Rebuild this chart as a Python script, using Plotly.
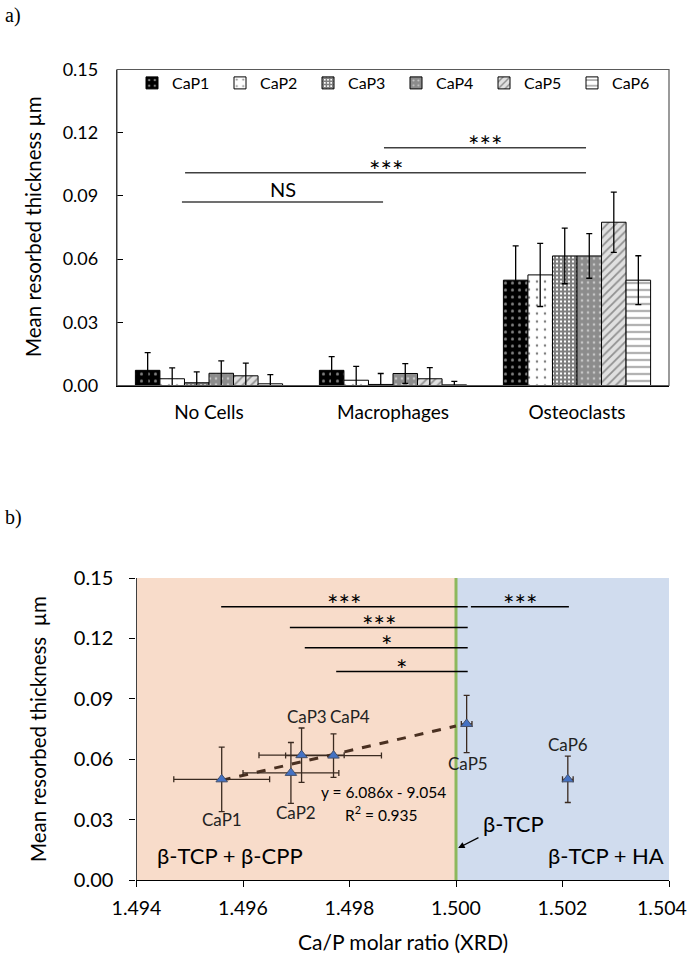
import plotly.graph_objects as go

# ---------------- data: panel a ----------------
categories = ["No Cells", "Macrophages", "Osteoclasts"]
series_names = ["CaP1", "CaP2", "CaP3", "CaP4", "CaP5", "CaP6"]
cap1_mean = [0.0072, 0.0072, 0.0500]
cap1_err = [0.0084, 0.0065, 0.0163]
cap2_mean = [0.0032, 0.0025, 0.0525]
cap2_err = [0.0052, 0.0066, 0.0150]
cap3_mean = [0.0013, 0.0005, 0.0615]
cap3_err = [0.0052, 0.0052, 0.0132]
cap4_mean = [0.0058, 0.0057, 0.0615]
cap4_err = [0.0059, 0.0047, 0.0106]
cap5_mean = [0.0046, 0.0032, 0.0775]
cap5_err = [0.0060, 0.0053, 0.0143]
cap6_mean = [0.0008, 0.0003, 0.0500]
cap6_err = [0.0044, 0.0017, 0.0116]
y_ticks_a = [0.00, 0.03, 0.06, 0.09, 0.12, 0.15]

# ---------------- data: panel b ----------------
cap_labels = ["CaP1", "CaP2", "CaP3", "CaP4", "CaP5", "CaP6"]
cap_x = [1.4956, 1.4969, 1.4971, 1.4977, 1.5002, 1.5021]
cap_x_err = [0.0009, 0.0009, 0.0008, 0.0009, 0.0001, 0.0001]
cap_y = [0.0500, 0.0532, 0.0620, 0.0618, 0.0775, 0.0500]
cap_y_err = [0.0160, 0.0151, 0.0135, 0.0108, 0.0142, 0.0115]
trend_x = [1.4956, 1.5000]
trend_y = [0.0495, 0.0765]
x_ticks_b = [1.494, 1.496, 1.498, 1.500, 1.502, 1.504]

FONT = "Lato"
means = [cap1_mean, cap2_mean, cap3_mean, cap4_mean, cap5_mean, cap6_mean]
errs = [cap1_err, cap2_err, cap3_err, cap4_err, cap5_err, cap6_err]
patterns = [
    dict(shape=".", fgcolor="white", bgcolor="black", size=7, solidity=0.15),
    dict(shape=".", fgcolor="black", bgcolor="white", size=8, solidity=0.08),
    dict(shape="+", fgcolor="black", bgcolor="white", size=4, solidity=0.75),
    dict(shape=".", fgcolor="white", bgcolor="#8c8c8c", size=6, solidity=0.15),
    dict(shape="/", fgcolor="#404040", bgcolor="#e0e0e0", size=6, solidity=0.3),
    dict(shape="-", fgcolor="black", bgcolor="white", size=7, solidity=0.2),
]

fig = go.Figure()
for name, m, e, p in zip(series_names, means, errs, patterns):
    fig.add_trace(go.Bar(
        x=categories, y=m, name=name, xaxis="x", yaxis="y",
        marker=dict(color=p["bgcolor"], line=dict(color="black", width=1), pattern=p),
        error_y=dict(type="data", array=e, color="black", thickness=1.3, width=3),
    ))

# panel b traces
fig.add_trace(go.Scatter(
    x=trend_x, y=trend_y, mode="lines", xaxis="x2", yaxis="y2", showlegend=False,
    line=dict(color="#4a3021", width=3, dash="dash"), hoverinfo="skip",
))
fig.add_trace(go.Scatter(
    x=cap_x, y=cap_y, mode="markers", xaxis="x2", yaxis="y2", showlegend=False,
    marker=dict(symbol="triangle-up", size=10, color="#4472c4", line=dict(color="#44506a", width=1)),
    error_x=dict(type="data", array=cap_x_err, color="#3a2a20", thickness=1.3, width=3),
    error_y=dict(type="data", array=cap_y_err, color="#3a2a20", thickness=1.3, width=3),
))

W, H = 689, 956
def px_x(p):
    return p / W
def px_y(p):
    return 1 - p / H

shapes = []
annotations = []

# panel a frame
shapes.append(dict(type="rect", xref="x domain", yref="y domain", x0=0, x1=1, y0=0, y1=1,
                   line=dict(color="#595959", width=1.2), layer="above"))

# panel a significance brackets (x in category index units)
brackets_a = [(0.951, 2.049, 0.1129, "***"), (-0.130, 2.049, 0.1010, "***"), (-0.147, 0.946, 0.0871, "NS")]
for x0, x1, yv, t in brackets_a:
    shapes.append(dict(type="line", xref="x", yref="y", x0=x0, x1=x1, y0=yv, y1=yv,
                       line=dict(color="#404040", width=1.5)))
    annotations.append(dict(x=(x0 + x1) / 2, y=yv, xref="x", yref="y", text=t, showarrow=False,
                            xanchor="center", yanchor="middle", yshift=13 if t == "NS" else 2,
                            font=dict(family=FONT, size=20 if t == "NS" else 27, color="black")))

# panel b background regions
shapes.append(dict(type="rect", xref="x2", yref="y2", x0=1.494, x1=1.500, y0=0, y1=0.15,
                   fillcolor="#f8dcca", line=dict(width=0), layer="below"))
shapes.append(dict(type="rect", xref="x2", yref="y2", x0=1.500, x1=1.504, y0=0, y1=0.15,
                   fillcolor="#d0dcee", line=dict(width=0), layer="below"))
shapes.append(dict(type="line", xref="x2", yref="y2", x0=1.500, x1=1.500, y0=0, y1=0.15,
                   line=dict(color="#8db85c", width=3), layer="below"))

brackets_b = [(1.49559, 1.50022, 0.1357, "***"), (1.50028, 1.50212, 0.1357, "***"),
              (1.49688, 1.50022, 0.1254, "***"), (1.49716, 1.50022, 0.1153, "*"),
              (1.49775, 1.50022, 0.1035, "*")]
for x0, x1, yv, t in brackets_b:
    shapes.append(dict(type="line", xref="x2", yref="y2", x0=x0, x1=x1, y0=yv, y1=yv,
                       line=dict(color="black", width=1.5)))
    annotations.append(dict(x=(x0 + x1) / 2, y=yv, xref="x2", yref="y2", text=t, showarrow=False,
                            xanchor="center", yanchor="middle", yshift=2,
                            font=dict(family=FONT, size=27, color="black")))

# point labels
label_pos = [(1.4956, 0.0299), (1.4970, 0.0335), (1.4972, 0.0813), (1.4980, 0.0813), (1.50023, 0.058), (1.5021, 0.0672)]
for lab, (lx, ly) in zip(cap_labels, label_pos):
    annotations.append(dict(x=lx, y=ly, xref="x2", yref="y2", text=lab, showarrow=False,
                            xanchor="center", yanchor="middle",
                            font=dict(family=FONT, size=17, color="#222")))

def ann(x, y, text, size, xref="x2", yref="y2", **kw):
    d = dict(x=x, y=y, xref=xref, yref=yref, text=text, showarrow=False,
             xanchor="center", yanchor="middle", font=dict(family=FONT, size=size, color="black"))
    d.update(kw)
    return d

# x tick labels of panel b: the last one sits at the page edge, so it is drawn right-aligned
x_ticktext_b = [f"{v:.3f}" for v in x_ticks_b[:-1]] + [""]

annotations += [
    ann(1.49864, 0.0439, "y = 6.086x - 9.054", 15.5),
    ann(1.4986, 0.0332, "R<sup>2</sup> = 0.935", 15.5),
    ann(1.49575, 0.0124, "β-TCP + β-CPP", 22),
    ann(1.50281, 0.0124, "β-TCP + HA", 22),
    ann(1.50108, 0.0282, "β-TCP", 22),
    dict(x=1.50004, y=0.0159, xref="x2", yref="y2", ax=1.50045, ay=0.0214, axref="x2", ayref="y2",
         text="", showarrow=True, arrowhead=2, arrowsize=1, arrowwidth=1.3, arrowcolor="black"),
    ann(1.0, px_y(907), f"{x_ticks_b[-1]:.3f}", 19.5, xref="paper", yref="paper", xanchor="right"),
    # axis titles
    ann(px_x(33), px_y(227), "Mean resorbed thickness µm", 20.5, xref="paper", yref="paper", textangle=-90),
    ann(px_x(38), px_y(729), "Mean resorbed thickness  µm", 20.5, xref="paper", yref="paper", textangle=-90),
    ann(px_x(403), px_y(941), "Ca/P molar ratio (XRD)", 21, xref="paper", yref="paper"),
    dict(x=px_x(3), y=px_y(15), xref="paper", yref="paper", text="a)", xanchor="left", yanchor="middle",
         showarrow=False, font=dict(family="Liberation Serif", size=20, color="black")),
    dict(x=px_x(3), y=px_y(517), xref="paper", yref="paper", text="b)", xanchor="left", yanchor="middle",
         showarrow=False, font=dict(family="Liberation Serif", size=20, color="black")),
]

fig.update_layout(
    width=W, height=H, margin=dict(l=0, r=0, t=0, b=0, autoexpand=False),
    paper_bgcolor="white", plot_bgcolor="white",
    barmode="group", bargap=0.2, bargroupgap=0,
    font=dict(family=FONT, color="black"),
    showlegend=True,
    legend=dict(orientation="h", x=px_x(132), y=px_y(66), xanchor="left", yanchor="top",
                entrywidth=43, entrywidthmode="pixels", bgcolor="rgba(0,0,0,0)",
                font=dict(family=FONT, size=16, color="black"), itemwidth=30, tracegroupgap=0),
    xaxis=dict(domain=[px_x(117), px_x(669)], anchor="y", showline=True, linecolor="black",
               linewidth=1.3, ticks="", showgrid=False, zeroline=False, ticklabelstandoff=10,
               tickfont=dict(family=FONT, size=19, color="black")),
    yaxis=dict(domain=[px_y(385.5), px_y(69.5)], anchor="x", range=[0, 0.15], tickvals=y_ticks_a,
               tickformat=".2f", ticks="inside", ticklen=6, tickcolor="black", showline=True,
               linecolor="black", linewidth=1.3, showgrid=False, zeroline=False, ticklabelstandoff=14,
               tickfont=dict(family=FONT, size=18, color="black")),
    xaxis2=dict(domain=[px_x(136.5), px_x(669)], anchor="y2", range=[1.494, 1.504], tickvals=x_ticks_b,
                ticktext=x_ticktext_b, ticks="outside", ticklen=6, tickcolor="black", showline=True,
                linecolor="black", linewidth=1.3, showgrid=False, zeroline=False, ticklabelstandoff=4,
                ticklabeloverflow="allow",
                tickfont=dict(family=FONT, size=19.5, color="black")),
    yaxis2=dict(domain=[px_y(880), px_y(578)], anchor="x2", range=[0, 0.15], tickvals=y_ticks_a,
                tickformat=".2f", ticks="outside", ticklen=6, tickcolor="black", showline=True,
                linecolor="#404040", linewidth=1.3, showgrid=False, zeroline=False, ticklabelstandoff=12,
                tickfont=dict(family=FONT, size=20, color="black")),
    shapes=shapes, annotations=annotations,
)

# remove the browser's default 8px page margin so figure pixels equal page pixels
fig.write_html("out.html", config={"displayModeBar": False},
               post_script="document.body.style.margin='0px';")
